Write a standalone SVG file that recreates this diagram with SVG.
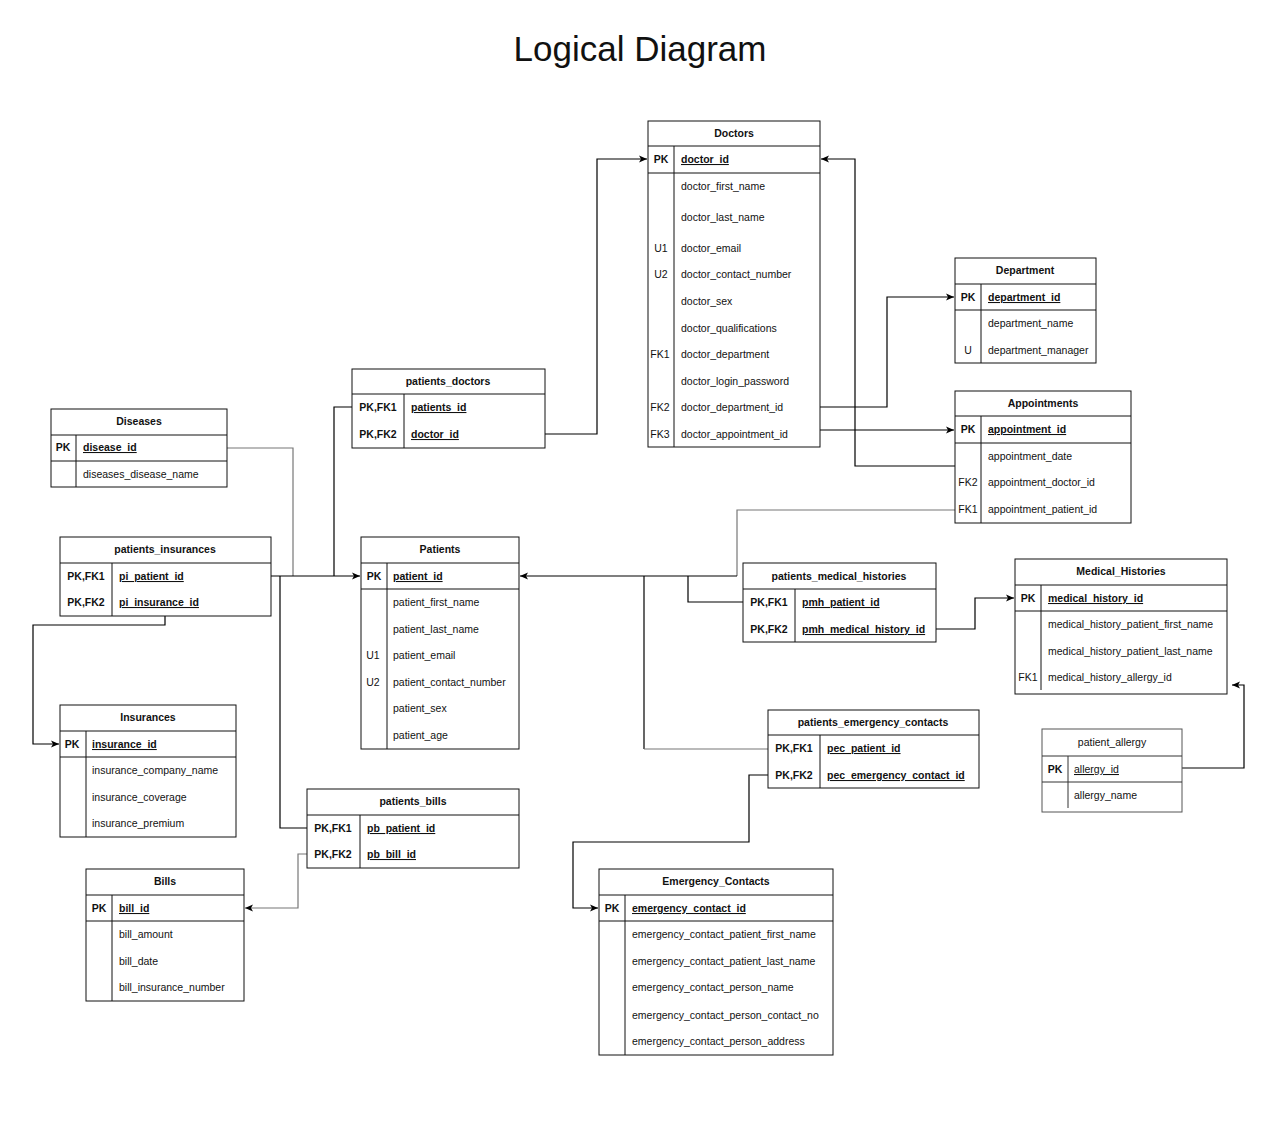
<svg xmlns="http://www.w3.org/2000/svg" width="1281" height="1133" viewBox="0 0 1281 1133">
<style>
.bg{fill:#fff}
.box{fill:#fff;stroke:#111;stroke-width:1}
.ln{stroke:#111;stroke-width:1;fill:none}
.t{font-family:"Liberation Sans",Arial,Helvetica,sans-serif;font-size:10.5px;fill:#111}
.b{font-weight:bold}
.u{text-decoration:underline}
.c{text-anchor:middle}
.title{font-family:"Liberation Sans",Arial,sans-serif;font-size:35px;fill:#111;text-anchor:middle}
.conn{stroke:#000;stroke-width:1.2;fill:none}
.gray{stroke:#777}
</style>
<defs>
<marker id="arr" markerWidth="10" markerHeight="8" refX="9" refY="4" orient="auto" markerUnits="userSpaceOnUse">
<path d="M1,0.5 L9,4 L1,7.5 L3,4 Z" fill="#000"/>
</marker>
</defs>
<rect class="bg" x="0" y="0" width="1281" height="1133"/>
<text class="title" x="640" y="61">Logical Diagram</text>

<g id="connectors">
<path class="conn" d="M545,434 H597 V159 H647" marker-end="url(#arr)"/>
<path class="conn" d="M820,430 H954" marker-end="url(#arr)"/>
<path class="conn" d="M820,407 H887 V297 H954" marker-end="url(#arr)"/>
<path class="conn" d="M1043,461 V466 H855 V159 H821" marker-end="url(#arr)"/>
<path class="conn gray" d="M955,510 H737 V576"/>
<path class="conn" d="M737,576 H520" marker-end="url(#arr)"/>
<path class="conn" d="M743,602 H688 V576"/>
<path class="conn" d="M644,576 V749"/>
<path class="conn gray" d="M644,749 H768"/>
<path class="conn" d="M936,629 H975 V598 H1014" marker-end="url(#arr)"/>
<path class="conn" d="M1182,768 H1244 V685 H1232" marker-end="url(#arr)"/>
<path class="conn" d="M768,775 H749 V842 H573 V908 H598" marker-end="url(#arr)"/>
<path class="conn gray" d="M227,448 H293 V576"/>
<path class="conn" d="M352,407 H334 V576"/>
<path class="conn" d="M271,576 H360" marker-end="url(#arr)"/>
<path class="conn" d="M165,616 V625 H33 V744 H59" marker-end="url(#arr)"/>
<path class="conn" d="M307,828 H280 V576"/>
<path class="conn gray" d="M307,854 H298 V908 H245" marker-end="url(#arr)"/>
</g>

<g id="doctors">
<rect class="box" x="648" y="121" width="172" height="326"/>
<path class="ln" d="M648,146 H820 M648,173 H820 M674,146 V447"/>
<text class="t b c" x="734" y="137">Doctors</text>
<text class="t b c" x="661" y="163">PK</text>
<text class="t b u" x="681" y="163">doctor_id</text>
<text class="t" x="681" y="190">doctor_first_name</text>
<text class="t" x="681" y="221">doctor_last_name</text>
<text class="t c" x="661" y="252">U1</text>
<text class="t" x="681" y="252">doctor_email</text>
<text class="t c" x="661" y="278">U2</text>
<text class="t" x="681" y="278">doctor_contact_number</text>
<text class="t" x="681" y="305">doctor_sex</text>
<text class="t" x="681" y="332">doctor_qualifications</text>
<text class="t c" x="660" y="358">FK1</text>
<text class="t" x="681" y="358">doctor_department</text>
<text class="t" x="681" y="385">doctor_login_password</text>
<text class="t c" x="660" y="411">FK2</text>
<text class="t" x="681" y="411">doctor_department_id</text>
<text class="t c" x="660" y="438">FK3</text>
<text class="t" x="681" y="438">doctor_appointment_id</text>
</g>

<g id="department">
<rect class="box" x="955" y="258" width="141" height="105"/>
<path class="ln" d="M955,284 H1096 M955,310 H1096 M981,284 V363"/>
<text class="t b c" x="1025" y="274">Department</text>
<text class="t b c" x="968" y="301">PK</text>
<text class="t b u" x="988" y="301">department_id</text>
<text class="t" x="988" y="327">department_name</text>
<text class="t c" x="968" y="354">U</text>
<text class="t" x="988" y="354">department_manager</text>
</g>

<g id="appointments">
<rect class="box" x="955" y="391" width="176" height="132"/>
<path class="ln" d="M955,416 H1131 M955,443 H1131 M981,416 V523"/>
<text class="t b c" x="1043" y="407">Appointments</text>
<text class="t b c" x="968" y="433">PK</text>
<text class="t b u" x="988" y="433">appointment_id</text>
<text class="t" x="988" y="460">appointment_date</text>
<text class="t c" x="968" y="486">FK2</text>
<text class="t" x="988" y="486">appointment_doctor_id</text>
<text class="t c" x="968" y="513">FK1</text>
<text class="t" x="988" y="513">appointment_patient_id</text>
</g>

<g id="patients_doctors">
<rect class="box" x="352" y="369" width="193" height="79"/>
<path class="ln" d="M352,394 H545 M404,394 V448"/>
<text class="t b c" x="448" y="385">patients_doctors</text>
<text class="t b c" x="378" y="411">PK,FK1</text>
<text class="t b u" x="411" y="411">patients_id</text>
<text class="t b c" x="378" y="438">PK,FK2</text>
<text class="t b u" x="411" y="438">doctor_id</text>
</g>

<g id="diseases">
<rect class="box" x="51" y="409" width="176" height="78"/>
<path class="ln" d="M51,435 H227 M51,461 H227 M76,435 V487"/>
<text class="t b c" x="139" y="425">Diseases</text>
<text class="t b c" x="63" y="451">PK</text>
<text class="t b u" x="83" y="451">disease_id</text>
<text class="t" x="83" y="478">diseases_disease_name</text>
</g>

<g id="patients_insurances">
<rect class="box" x="60" y="537" width="211" height="79"/>
<path class="ln" d="M60,563 H271 M112,563 V616"/>
<text class="t b c" x="165" y="553">patients_insurances</text>
<text class="t b c" x="86" y="580">PK,FK1</text>
<text class="t b u" x="119" y="580">pi_patient_id</text>
<text class="t b c" x="86" y="606">PK,FK2</text>
<text class="t b u" x="119" y="606">pi_insurance_id</text>
</g>

<g id="patients">
<rect class="box" x="361" y="537" width="158" height="212"/>
<path class="ln" d="M361,563 H519 M361,589 H519 M387,563 V749"/>
<text class="t b c" x="440" y="553">Patients</text>
<text class="t b c" x="374" y="580">PK</text>
<text class="t b u" x="393" y="580">patient_id</text>
<text class="t" x="393" y="606">patient_first_name</text>
<text class="t" x="393" y="633">patient_last_name</text>
<text class="t c" x="373" y="659">U1</text>
<text class="t" x="393" y="659">patient_email</text>
<text class="t c" x="373" y="686">U2</text>
<text class="t" x="393" y="686">patient_contact_number</text>
<text class="t" x="393" y="712">patient_sex</text>
<text class="t" x="393" y="739">patient_age</text>
</g>

<g id="patients_medical_histories">
<rect class="box" x="743" y="563" width="193" height="79"/>
<path class="ln" d="M743,589 H936 M795,589 V642"/>
<text class="t b c" x="839" y="580">patients_medical_histories</text>
<text class="t b c" x="769" y="606">PK,FK1</text>
<text class="t b u" x="802" y="606">pmh_patient_id</text>
<text class="t b c" x="769" y="633">PK,FK2</text>
<text class="t b u" x="802" y="633">pmh_medical_history_id</text>
</g>

<g id="medical_histories">
<rect class="box" x="1015" y="559" width="212" height="135"/>
<path class="ln" d="M1015,585 H1227 M1015,611 H1227 M1041,585 V690"/>
<text class="t b c" x="1121" y="575">Medical_Histories</text>
<text class="t b c" x="1028" y="602">PK</text>
<text class="t b u" x="1048" y="602">medical_history_id</text>
<text class="t" x="1048" y="628">medical_history_patient_first_name</text>
<text class="t" x="1048" y="655">medical_history_patient_last_name</text>
<text class="t c" x="1028" y="681">FK1</text>
<text class="t" x="1048" y="681">medical_history_allergy_id</text>
</g>

<g id="patient_allergy">
<rect class="box" x="1042" y="729" width="140" height="83" style="stroke:#555"/>
<path class="ln" d="M1042,756 H1182 M1042,782 H1182 M1068,756 V808" style="stroke:#333"/>
<text class="t c" x="1112" y="746">patient_allergy</text>
<text class="t b c" x="1055" y="773">PK</text>
<text class="t u" x="1074" y="773">allergy_id</text>
<text class="t" x="1074" y="799">allergy_name</text>
</g>

<g id="insurances">
<rect class="box" x="60" y="705" width="176" height="132"/>
<path class="ln" d="M60,731 H236 M60,757 H236 M86,731 V837"/>
<text class="t b c" x="148" y="721">Insurances</text>
<text class="t b c" x="72" y="748">PK</text>
<text class="t b u" x="92" y="748">insurance_id</text>
<text class="t" x="92" y="774">insurance_company_name</text>
<text class="t" x="92" y="801">insurance_coverage</text>
<text class="t" x="92" y="827">insurance_premium</text>
</g>

<g id="patients_bills">
<rect class="box" x="307" y="789" width="212" height="79"/>
<path class="ln" d="M307,815 H519 M360,815 V868"/>
<text class="t b c" x="413" y="805">patients_bills</text>
<text class="t b c" x="333" y="832">PK,FK1</text>
<text class="t b u" x="367" y="832">pb_patient_id</text>
<text class="t b c" x="333" y="858">PK,FK2</text>
<text class="t b u" x="367" y="858">pb_bill_id</text>
</g>

<g id="bills">
<rect class="box" x="86" y="869" width="158" height="132"/>
<path class="ln" d="M86,895 H244 M86,921 H244 M112,895 V1001"/>
<text class="t b c" x="165" y="885">Bills</text>
<text class="t b c" x="99" y="912">PK</text>
<text class="t b u" x="119" y="912">bill_id</text>
<text class="t" x="119" y="938">bill_amount</text>
<text class="t" x="119" y="965">bill_date</text>
<text class="t" x="119" y="991">bill_insurance_number</text>
</g>

<g id="patients_emergency_contacts">
<rect class="box" x="768" y="710" width="211" height="78"/>
<path class="ln" d="M768,735 H979 M820,735 V788"/>
<text class="t b c" x="873" y="726">patients_emergency_contacts</text>
<text class="t b c" x="794" y="752">PK,FK1</text>
<text class="t b u" x="827" y="752">pec_patient_id</text>
<text class="t b c" x="794" y="779">PK,FK2</text>
<text class="t b u" x="827" y="779">pec_emergency_contact_id</text>
</g>

<g id="emergency_contacts">
<rect class="box" x="599" y="869" width="234" height="186"/>
<path class="ln" d="M599,895 H833 M599,921 H833 M625,895 V1055"/>
<text class="t b c" x="716" y="885">Emergency_Contacts</text>
<text class="t b c" x="612" y="912">PK</text>
<text class="t b u" x="632" y="912">emergency_contact_id</text>
<text class="t" x="632" y="938">emergency_contact_patient_first_name</text>
<text class="t" x="632" y="965">emergency_contact_patient_last_name</text>
<text class="t" x="632" y="991">emergency_contact_person_name</text>
<text class="t" x="632" y="1019">emergency_contact_person_contact_no</text>
<text class="t" x="632" y="1045">emergency_contact_person_address</text>
</g>
</svg>
